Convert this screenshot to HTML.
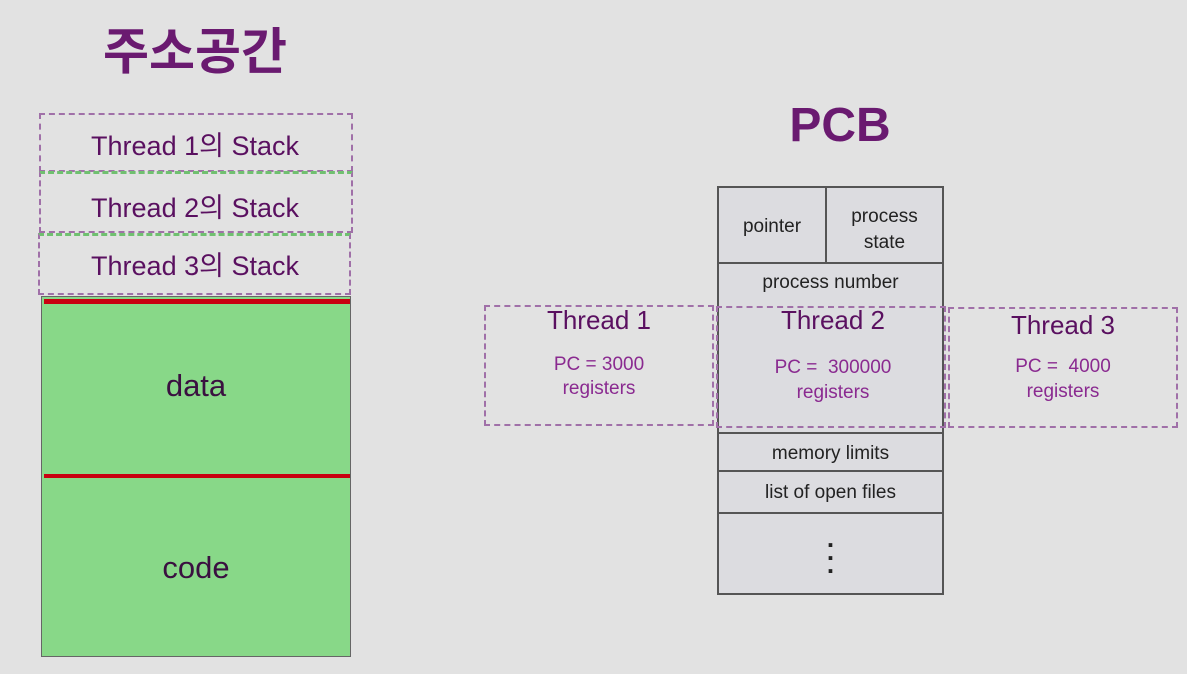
<!DOCTYPE html>
<html><head><meta charset="utf-8"><style>
body{margin:0;width:1187px;height:674px;background:#e2e2e2;position:relative;overflow:hidden;font-family:"Liberation Sans","Noto Sans CJK KR",sans-serif}
div{position:absolute;box-sizing:border-box}
.t{text-align:center;color:#5a1060}
.dash{border:2px dashed #a070a8}
.pcb{background:#dcdce0;border:2px solid #555;color:#222;text-align:center;font-size:19px}
.g{background:#88d888;border:1.5px solid #666}
</style></head><body>
<div class="t" style="left:40px;top:12px;width:310px;font-size:50px;font-weight:bold;color:#6a1a70;">주소공간</div>
<div class="t" style="left:740px;top:98px;width:200px;font-size:48px;font-weight:bold;color:#6a1a70;">PCB</div>

<div class="dash" style="left:39px;top:113px;width:314px;height:59px"></div>
<div class="dash" style="left:39px;top:171px;width:314px;height:62px;border-top:3px dashed #70c070"></div>
<div class="dash" style="left:38px;top:233px;width:313px;height:62px;border-top:3px dashed #70c070"></div>
<div class="t" style="left:40px;top:124px;width:310px;font-size:27px">Thread 1의 Stack</div>
<div class="t" style="left:40px;top:186px;width:310px;font-size:27px">Thread 2의 Stack</div>
<div class="t" style="left:40px;top:244px;width:310px;font-size:27px">Thread 3의 Stack</div>

<div class="g" style="left:41px;top:296px;width:310px;height:361px"></div>
<div style="left:44px;top:299px;width:306px;height:5px;background:#c80010"></div>
<div style="left:44px;top:474px;width:306px;height:4px;background:#c80010"></div>
<div class="t" style="left:41px;top:368px;width:310px;font-size:31px;color:#3a1040">data</div>
<div class="t" style="left:41px;top:550px;width:310px;font-size:31px;color:#3a1040">code</div>

<div class="pcb" style="left:717px;top:186px;width:110px;height:78px;padding-top:28px">pointer</div>
<div class="pcb" style="left:825px;top:186px;width:119px;height:78px;padding-top:16px;line-height:26px">process<br>state</div>
<div class="pcb" style="left:717px;top:262px;width:227px;height:40px;padding-top:8px">process number</div>
<div class="pcb" style="left:717px;top:300px;width:227px;height:133px;border-top:none;border-bottom:none"></div>
<div class="pcb" style="left:717px;top:432px;width:227px;height:40px;padding-top:9px">memory limits</div>
<div class="pcb" style="left:717px;top:470px;width:227px;height:44px;padding-top:10px">list of open files</div>
<div class="pcb" style="left:717px;top:512px;width:227px;height:83px;font-size:26px;line-height:13px;padding-top:18px;font-weight:bold">.<br>.<br>.</div>

<div class="dash" style="left:484px;top:305px;width:230px;height:121px"></div>
<div class="dash" style="left:716px;top:306px;width:230px;height:122px"></div>
<div class="dash" style="left:948px;top:307px;width:230px;height:121px"></div>
<div class="t" style="left:484px;top:305px;width:230px;font-size:26px">Thread 1</div>
<div class="t" style="left:484px;top:353px;width:230px;font-size:19px;line-height:24px;color:#8a2a90">PC = 3000<br>registers</div>
<div class="t" style="left:718px;top:305px;width:230px;font-size:26px">Thread 2</div>
<div class="t" style="left:718px;top:355px;width:230px;font-size:19px;line-height:25px;color:#8a2a90">PC =&nbsp; 300000<br>registers</div>
<div class="t" style="left:948px;top:310px;width:230px;font-size:26px">Thread 3</div>
<div class="t" style="left:948px;top:354px;width:230px;font-size:19px;line-height:25px;color:#8a2a90">PC =&nbsp; 4000<br>registers</div>
</body></html>
